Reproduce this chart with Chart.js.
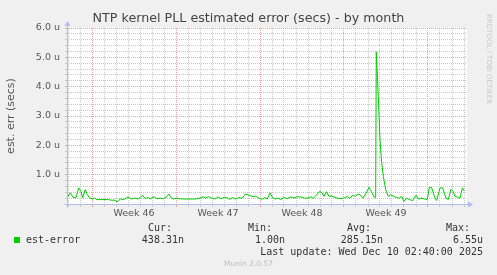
<!DOCTYPE html>
<html>
<head>
<meta charset="utf-8">
<script src="https://cdn.jsdelivr.net/npm/chart.js@4.4.1/dist/chart.umd.min.js"></script>
<style>
  html, body { margin: 0; padding: 0; background: #f0f0f0; }
  #wrap { position: relative; width: 497px; height: 275px; overflow: hidden; }
  #chart { position: absolute; left: 0; top: 0; }
  .m { position: absolute; font-family: "DejaVu Sans Mono", monospace; font-size: 10px; line-height: 12px; color: #333; white-space: pre; }
  .r { text-align: right; }
  #swatch { position: absolute; left: 14px; top: 237px; width: 6px; height: 6px; background: #00cc00; }
  #munin { position: absolute; left: 0; width: 497px; top: 259px; text-align: center; font-family: "DejaVu Sans", sans-serif; font-size: 7.5px; line-height: 10px; color: #bdbdbd; }
  #rrd { position: absolute; left: 485px; top: 14px; writing-mode: vertical-rl; font-family: "DejaVu Sans", sans-serif; font-size: 7px; color: #c8c8c8; }
</style>
</head>
<body>
<div id="wrap">
  <canvas id="chart" width="497" height="275"></canvas>
  <div id="rrd">RRDTOOL / TOBI OETIKER</div>
  <div id="swatch"></div>
  <div class="m" style="left:26px; top:234px;" id="series"></div>
  <div id="legend"></div>
  <div class="m r" style="right:14px; top:246px;" id="updated"></div>
  <div id="munin">Munin 2.0.57</div>
</div>
<script>
// time in days since Mon 10 Nov 2025 00:00 (start of week 46)
const days = [
  -2.08, -1.81, -1.58, -1.33, -1.11, -0.92, -0.78, -0.56, -0.39, -0.22,
  0.06, 0.22, 0.42, 1.39, 1.58, 1.92, 2.08, 2.36, 2.64, 3.0,
  3.28, 3.56, 3.83, 4.03, 4.22, 4.44, 4.67, 4.86, 5.14, 5.42,
  5.69, 5.97, 6.25, 6.39, 6.61, 6.78, 7.06, 7.33, 7.61, 8.17,
  8.58, 9.0, 9.28, 9.47, 9.69, 9.97, 10.25, 10.53, 10.75, 11.03,
  11.31, 11.5, 11.72, 11.97, 12.25, 12.47, 12.81, 13.08, 13.36, 13.64,
  13.92, 14.14, 14.42, 14.61, 14.83, 15.06, 15.28, 15.5, 15.72, 16.0,
  16.28, 16.56, 16.83, 17.11, 17.39, 17.72, 18.0, 18.28, 18.42, 18.69,
  18.97, 19.17, 19.33, 19.53, 19.75, 19.94, 20.17, 20.44, 20.72, 21.0,
  21.28, 21.47, 21.75, 21.94, 22.17, 22.39, 22.58, 22.86, 23.08, 23.28,
  23.5, 23.64, 23.69, 23.86, 24.0, 24.14, 24.28, 24.47, 24.69, 24.89,
  25.11, 25.39, 25.61, 25.81, 26.0, 26.22, 26.44, 26.72, 27.0, 27.19,
  27.47, 27.75, 27.94, 28.11, 28.31, 28.58, 28.72, 29.0, 29.22, 29.5,
  29.69, 29.92, 30.11, 30.25, 30.44, 30.67, 30.86, 31.03
];
// est-error in microseconds
const estError = [
  0.21, 0.38, 0.23, 0.21, 0.55, 0.43, 0.21, 0.49, 0.32, 0.21,
  0.17, 0.20, 0.15, 0.15, 0.13, 0.13, 0.07, 0.17, 0.15, 0.24,
  0.17, 0.20, 0.17, 0.22, 0.30, 0.18, 0.22, 0.17, 0.25, 0.18,
  0.20, 0.18, 0.25, 0.34, 0.21, 0.17, 0.20, 0.18, 0.17, 0.17,
  0.17, 0.20, 0.25, 0.20, 0.25, 0.20, 0.17, 0.24, 0.18, 0.23,
  0.20, 0.16, 0.22, 0.17, 0.22, 0.19, 0.34, 0.30, 0.26, 0.26,
  0.20, 0.16, 0.22, 0.17, 0.38, 0.21, 0.17, 0.20, 0.15, 0.22,
  0.18, 0.24, 0.20, 0.25, 0.24, 0.20, 0.20, 0.25, 0.18, 0.30,
  0.43, 0.38, 0.26, 0.42, 0.26, 0.28, 0.24, 0.20, 0.18, 0.20,
  0.26, 0.20, 0.30, 0.26, 0.34, 0.30, 0.20, 0.38, 0.57, 0.43,
  0.24, 0.22, 5.19, 3.66, 2.19, 1.41, 0.94, 0.49, 0.26, 0.32,
  0.26, 0.22, 0.20, 0.26, 0.09, 0.20, 0.15, 0.12, 0.30, 0.17,
  0.20, 0.17, 0.15, 0.57, 0.55, 0.20, 0.12, 0.55, 0.55, 0.20,
  0.15, 0.50, 0.42, 0.26, 0.24, 0.20, 0.55, 0.44
];
const weekLabels = ["Week 46", "Week 47", "Week 48", "Week 49"];
const weekMids = [3.5, 10.5, 17.5, 24.5];
const statHeads = ["Cur:", "Min:", "Avg:", "Max:"];
const statValues = ["438.31n", "1.00n", "285.15n", "6.55u"];
const lastUpdate = "Last update: Wed Dec 10 02:40:00 2025";

const MAJOR = "rgb(236,160,160)";
const MINOR = "rgb(200,200,200)";
const AXIS = "rgb(178,186,240)";

// legend block
document.getElementById("series").textContent = "est-error";
document.getElementById("updated").textContent = lastUpdate;
const headRight = [172, 272, 371, 470];
const valRight = [184, 285, 383, 483];
const legendEl = document.getElementById("legend");
statHeads.forEach((h, i) => {
  const a = document.createElement("div");
  a.className = "m r";
  a.style.right = (497 - headRight[i]) + "px";
  a.style.top = "222px";
  a.textContent = h;
  legendEl.appendChild(a);
  const b = document.createElement("div");
  b.className = "m r";
  b.style.right = (497 - valRight[i]) + "px";
  b.style.top = "234px";
  b.textContent = statValues[i];
  legendEl.appendChild(b);
});

// white plot area + axis lines with arrows
const munin = {
  id: "munin",
  beforeDraw(chart) {
    const { ctx, chartArea: a } = chart;
    ctx.save();
    ctx.fillStyle = "#ffffff";
    ctx.fillRect(a.left, a.top, a.right - a.left, a.bottom - a.top);
    ctx.restore();
  },
  afterDraw(chart) {
    const { ctx, chartArea: a } = chart;
    const x0 = Math.round(a.left) + 0.5, y0 = Math.round(a.bottom) + 0.5;
    ctx.save();
    ctx.strokeStyle = AXIS;
    ctx.fillStyle = AXIS;
    ctx.lineWidth = 1;
    ctx.beginPath();
    ctx.moveTo(x0 - 3, y0);
    ctx.lineTo(a.right + 2, y0);
    ctx.moveTo(x0, y0 + 3);
    ctx.lineTo(x0, a.top - 3);
    ctx.stroke();
    ctx.beginPath();
    ctx.moveTo(a.right + 6, y0);
    ctx.lineTo(a.right + 1, y0 - 3);
    ctx.lineTo(a.right + 1, y0 + 3);
    ctx.closePath();
    ctx.fill();
    ctx.beginPath();
    ctx.moveTo(x0, a.top - 7);
    ctx.lineTo(x0 - 3, a.top - 2);
    ctx.lineTo(x0 + 3, a.top - 2);
    ctx.closePath();
    ctx.fill();
    ctx.restore();
  }
};

const isInt = v => Math.abs(v - Math.round(v)) < 1e-6;

new Chart(document.getElementById("chart"), {
  type: "line",
  data: {
    datasets: [{
      label: "est-error",
      data: days.map((d, i) => ({ x: d, y: estError[i] })),
      borderColor: "#00cc00",
      borderWidth: 1,
      pointRadius: 0,
      tension: 0,
      fill: false
    }]
  },
  options: {
    responsive: false,
    animation: false,
    devicePixelRatio: 1,
    layout: { padding: 0 },
    plugins: {
      legend: { display: false },
      tooltip: { enabled: false },
      title: {
        display: true,
        text: "NTP kernel PLL estimated error (secs) - by month",
        color: "#444",
        font: { family: "DejaVu Sans", size: 12.7, weight: "normal" },
        padding: { top: 10.8, bottom: 1.96 }
      }
    },
    scales: {
      x: {
        type: "linear",
        min: -25 / 12,
        max: 375 / 12,
        afterBuildTicks: scale => {
          const t = [];
          for (let d = -2; d <= 31; d++) t.push({ value: d });
          weekMids.forEach(v => t.push({ value: v }));
          t.sort((p, q) => p.value - q.value);
          scale.ticks = t;
        },
        afterFit: scale => { scale.height = 71; },
        ticks: {
          autoSkip: false,
          maxRotation: 0,
          padding: 1,
          color: "#555",
          font: { family: "DejaVu Sans", size: 9.5 },
          callback: v => {
            const i = weekMids.indexOf(v);
            return i >= 0 ? weekLabels[i] : "";
          }
        },
        grid: {
          tickLength: 3,
          color: c => {
            const v = c.tick.value;
            if (!isInt(v) || v <= -25 / 12) return "transparent";
            return Math.round(v) % 7 === 0 ? MAJOR : MINOR;
          }
        },
        border: { display: false, dash: [1, 1] }
      },
      y: {
        min: 0,
        max: 6,
        afterFit: scale => { scale.width = 67; },
        ticks: {
          stepSize: 0.2,
          autoSkip: false,
          padding: 5,
          color: "#555",
          font: { family: "DejaVu Sans", size: 9.5 },
          callback: v => (isInt(v) && Math.round(v) > 0) ? Math.round(v).toFixed(1) + " u" : ""
        },
        grid: {
          tickLength: 2,
          color: c => {
            const v = c.tick.value;
            if (v < 1e-6) return "transparent";
            return isInt(v) ? MAJOR : MINOR;
          }
        },
        border: { display: false, dash: [1, 1] },
        title: {
          display: true,
          text: "est. err (secs)",
          color: "#555",
          font: { family: "DejaVu Sans", size: 11 },
          padding: { top: 5, bottom: 0 }
        }
      },
      // empty right-hand strip so the title centres on the whole image
      yRight: {
        position: "right",
        min: 0,
        max: 6,
        afterFit: scale => { scale.width = 30; },
        ticks: { display: false },
        grid: { display: false },
        border: { display: false }
      }
    }
  },
  plugins: [munin]
});
</script>
</body>
</html>
